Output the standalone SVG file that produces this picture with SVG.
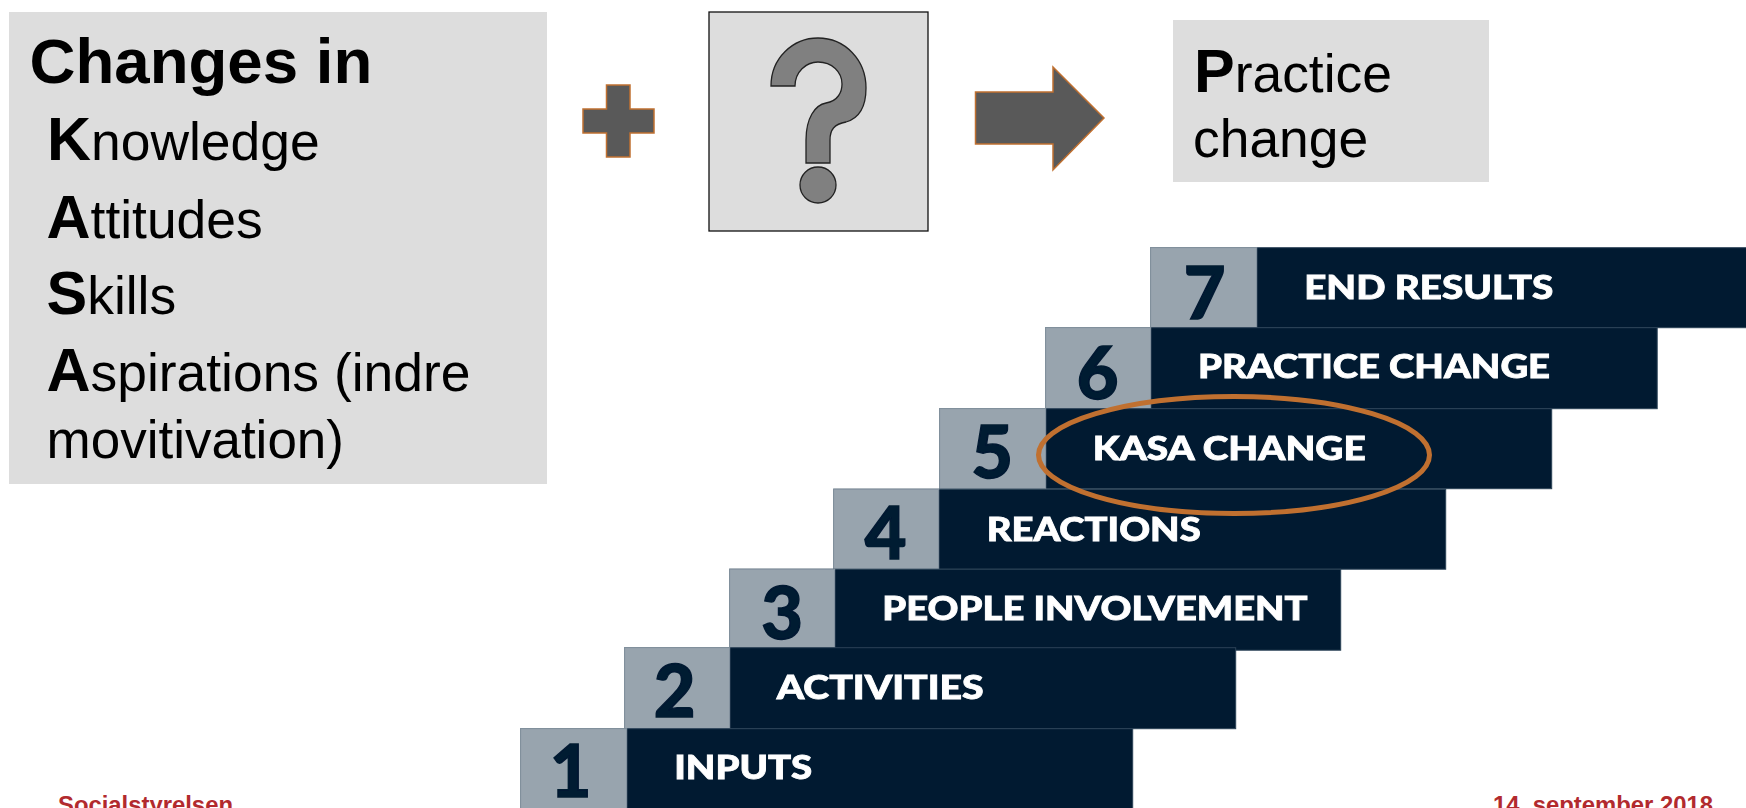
<svg xmlns="http://www.w3.org/2000/svg" width="1746" height="808" viewBox="0 0 1746 808">
<defs><filter id="soft" x="-5%" y="-5%" width="110%" height="110%"><feGaussianBlur stdDeviation="0.6"/></filter></defs>
<style>
text{font-family:"Liberation Sans",Arial,sans-serif}
.box{fill:#dddddd}
.t{font-size:53.4px;fill:#000}
.b{font-weight:700;font-size:61px}
.shape{fill:#595959;stroke:#c07030;stroke-width:1.5}
.dark{fill:#011a31;stroke:#2c4357;stroke-width:1}
.grey{fill:#98a4ae;stroke:#8a98a4;stroke-width:1}
.num{font-family:Lato,"Open Sans",sans-serif;font-weight:900;font-size:72px;fill:#011a31;stroke:#011a31;stroke-width:1.4;text-anchor:middle}
.lab{font-family:Lato,"Open Sans",sans-serif;font-weight:900;font-size:32px;fill:#fff;stroke:#fff;stroke-width:0.8}
.foot{font-weight:700;font-size:23.85px;fill:#b22a2e}
</style>
<rect width="1746" height="808" fill="#fff"/>
<g id="kasa-box">
<rect class="box" x="9" y="12" width="538" height="472"/>
<text x="29.5" y="83" font-weight="700" font-size="63.6">Changes in</text>
<text class="t" x="47" y="160"><tspan class="b">K</tspan>nowledge</text>
<text class="t" x="46.5" y="238"><tspan class="b">A</tspan>ttitudes</text>
<text class="t" x="46.5" y="314"><tspan class="b">S</tspan>kills</text>
<text class="t" x="46.5" y="391"><tspan class="b">A</tspan>spirations (indre</text>
<text class="t" x="46.5" y="458" style="font-size:53px">movitivation)</text>
</g>
<g id="plus"><path class="shape" d="M606.5,85H630V109H654V133H630V157H606.5V133H583V109H606.5Z"/></g>
<g id="question">
<rect x="709" y="12" width="219" height="219" fill="#dddddd" stroke="#111" stroke-width="1.3"/>
<path d="M771,86C771,58 793,38 818,38C845,38 866,60 866,88C866,106 860,118 846,122C834,124 830,130 830,140V163H806V140C806,118 815,105 826,103C838,101 842,92 842,84C842,72 832,62 818,62C806,62 795,72 795,86Z" fill="#808080" stroke="#222" stroke-width="1.3"/>
<ellipse cx="818" cy="185" rx="18" ry="18" fill="#808080" stroke="#222" stroke-width="1.3"/>
</g>
<g id="arrow"><path class="shape" d="M975.5,92H1053V67L1104,118L1053,170V144H975.5Z"/></g>
<g id="practice-box">
<rect class="box" x="1173" y="20" width="316" height="162"/>
<text class="t" x="1194" y="92"><tspan class="b">P</tspan>ractice</text>
<text class="t" x="1193" y="157">change</text>
</g>
<g id="stairs" transform="translate(0.7 0.7)">
<g id="step-7"><rect class="dark" x="1150" y="247" width="597" height="80"/><rect class="grey" x="1150" y="247" width="106" height="80"/><text class="num" x="1204" y="318" filter="url(#soft)">7</text><text class="lab" x="1303.5" y="298.7" textLength="249" lengthAdjust="spacingAndGlyphs" filter="url(#soft)">END RESULTS</text></g>
<g id="step-6"><rect class="dark" x="1045" y="327" width="611.5" height="81"/><rect class="grey" x="1045" y="327" width="105" height="81"/><text class="num" x="1097" y="398" filter="url(#soft)">6</text><text class="lab" x="1197.4" y="377.7" textLength="352" lengthAdjust="spacingAndGlyphs" filter="url(#soft)">PRACTICE CHANGE</text></g>
<g id="step-5"><rect class="dark" x="939" y="408" width="612" height="80"/><rect class="grey" x="939" y="408" width="106" height="80"/><text class="num" x="991.5" y="477" filter="url(#soft)">5</text><text class="lab" x="1092" y="459.7" textLength="273" lengthAdjust="spacingAndGlyphs" filter="url(#soft)">KASA CHANGE</text></g>
<g id="step-4"><rect class="dark" x="833" y="488.5" width="612" height="80"/><rect class="grey" x="833" y="488.5" width="105" height="80"/><text class="num" x="885" y="558" filter="url(#soft)">4</text><text class="lab" x="986" y="540" textLength="214" lengthAdjust="spacingAndGlyphs" filter="url(#soft)">REACTIONS</text></g>
<g id="step-3"><rect class="dark" x="729" y="568.5" width="611" height="81"/><rect class="grey" x="729" y="568.5" width="105" height="78.5"/><text class="num" x="781.5" y="638" filter="url(#soft)">3</text><text class="lab" x="881.6" y="619.7" textLength="425.4" lengthAdjust="spacingAndGlyphs" filter="url(#soft)">PEOPLE INVOLVEMENT</text></g>
<g id="step-2"><rect class="dark" x="624" y="647" width="611" height="81"/><rect class="grey" x="624" y="647" width="105" height="81"/><text class="num" x="674" y="716.7" filter="url(#soft)">2</text><text class="lab" x="776" y="698" textLength="207" lengthAdjust="spacingAndGlyphs" filter="url(#soft)">ACTIVITIES</text></g>
<g id="step-1"><rect class="dark" x="520" y="728" width="612" height="81"/><rect class="grey" x="520" y="728" width="106" height="81"/><text class="num" x="570" y="796.7" filter="url(#soft)">1</text><text class="lab" x="673.5" y="778" textLength="138" lengthAdjust="spacingAndGlyphs" filter="url(#soft)">INPUTS</text></g>
</g>
<g id="highlight"><ellipse cx="1234" cy="455" rx="195.5" ry="58.5" fill="none" stroke="#c07030" stroke-width="5"/></g>
<g id="footer">
<text class="foot" x="58" y="812.5">Socialstyrelsen</text>
<text class="foot" x="1493" y="812.5">14. september 2018</text>
</g>
</svg>
